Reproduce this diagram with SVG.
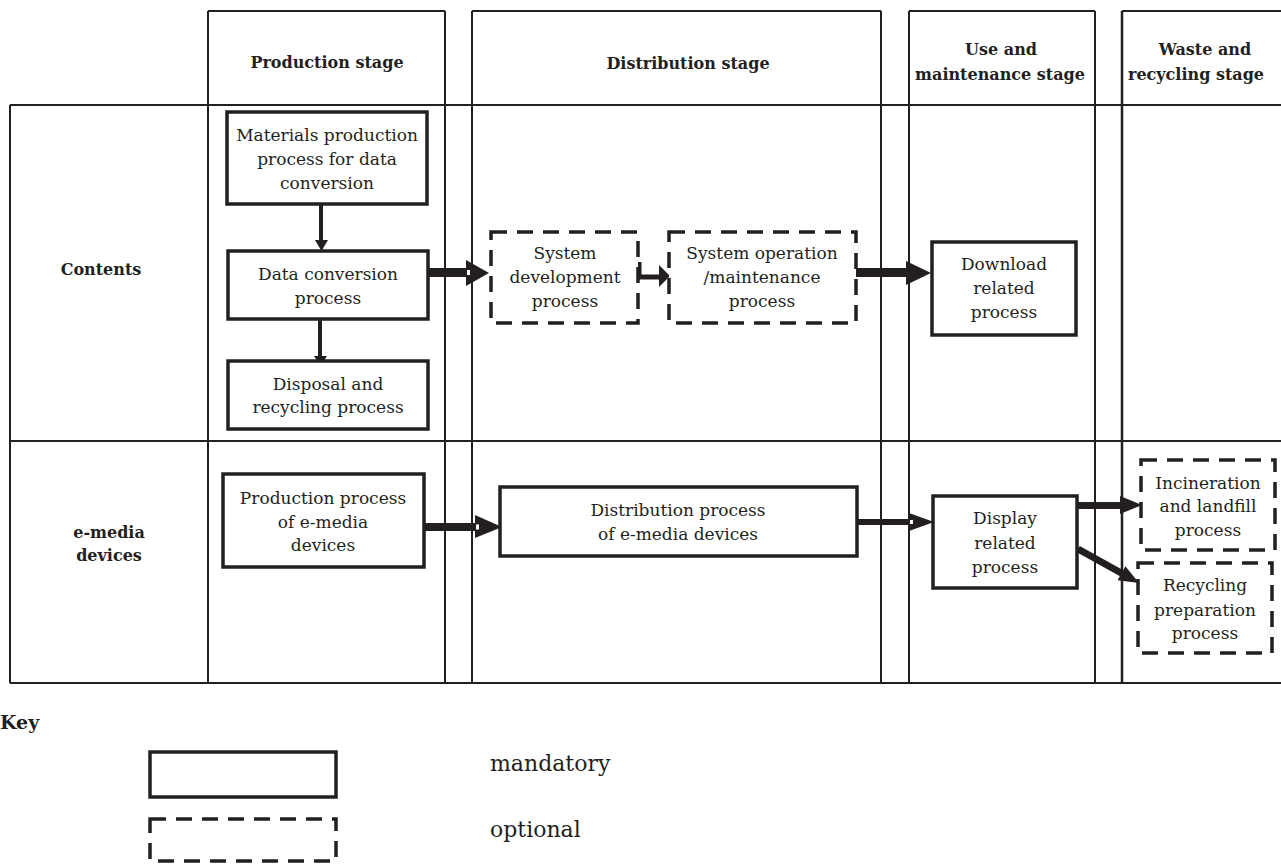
<svg xmlns="http://www.w3.org/2000/svg" width="1281" height="864" viewBox="0 0 1281 864">
<style>
.grid{stroke:#231f20;stroke-width:2;fill:none}
.box{fill:#fff;stroke:#231f20;stroke-width:3.5}
.opt{fill:#fff;stroke:#231f20;stroke-width:3.5;stroke-dasharray:16 10}
.t{font-family:"DejaVu Serif","Liberation Serif",serif;font-size:17px;fill:#231f20;text-anchor:middle}
.h{font-family:"DejaVu Serif","Liberation Serif",serif;font-size:16px;font-weight:bold;fill:#231f20;text-anchor:middle}
.k{font-family:"DejaVu Serif","Liberation Serif",serif;font-size:22px;fill:#231f20}
.head{fill:#231f20}
.sh{fill:#231f20}
.notch{fill:#fff}
</style>
<rect width="1281" height="864" fill="#fff"/>
<g id="grid">
<path class="grid" d="M10 105H1281M10 441H1281M10 683H1281M10 105V683"/>
<path class="grid" d="M208 11H445M472 11H881M909 11H1095M1122 11H1281"/>
<path class="grid" d="M208 11V683M445 11V683M472 11V683M881 11V683M909 11V683M1095 11V683"/>
<path class="grid" d="M1122 11V683" style="stroke-width:2.5"/>
</g>
<g id="headers">
<text class="h" x="327" y="68">Production stage</text>
<text class="h" x="688" y="69">Distribution stage</text>
<text class="h" x="1001" y="55">Use and</text>
<text class="h" x="1000" y="80">maintenance stage</text>
<text class="h" x="1205" y="55">Waste and</text>
<text class="h" x="1196" y="80">recycling stage</text>
<text class="h" x="101" y="275">Contents</text>
<text class="h" x="109" y="538">e-media</text>
<text class="h" x="109" y="561">devices</text>
</g>
<g id="connectors">
<path d="M321 204V242" stroke="#231f20" stroke-width="4"/>
<polygon class="head" points="315,240 328,240 321.5,251"/>
<path d="M320 319V358" stroke="#231f20" stroke-width="4"/>
<polygon class="head" points="314,356 327,356 320.5,366"/>
<rect class="sh" x="428" y="268" width="40" height="9"/>
<polygon class="head" points="466,260 489,273 466,286"/>
<rect class="notch" x="467" y="270" width="3" height="5"/>
<path d="M639 262V277H661" stroke="#231f20" stroke-width="5" fill="none"/>
<polygon class="head" points="659,265 670,276 659,287"/>
<rect class="sh" x="856" y="268" width="52" height="9"/>
<polygon class="head" points="906,261 931,273 906,285"/>
<rect class="sh" x="424" y="523" width="53" height="8"/>
<polygon class="head" points="475,515 502,527 475,538"/>
<rect class="notch" x="476" y="524.5" width="3" height="5"/>
<rect class="sh" x="857" y="519" width="54" height="6"/>
<polygon class="head" points="909,513 934,522 909,531"/>
<rect class="notch" x="910" y="520" width="3" height="4"/>
<rect class="sh" x="1077" y="502" width="45" height="7"/>
<polygon class="head" points="1120,496 1142,505 1120,514"/>
<path d="M1078 549L1123 574" stroke="#231f20" stroke-width="7"/>
<polygon class="head" points="1139,583 1117.6,580.3 1125.4,566.3"/>
</g>
<g id="n1">
<rect class="box" x="227" y="112" width="200" height="92"/>
<text class="t" x="327" y="141">Materials production</text>
<text class="t" x="327" y="165">process for data</text>
<text class="t" x="327" y="189">conversion</text>
</g>
<g id="n2">
<rect class="box" x="228" y="251" width="200" height="68"/>
<text class="t" x="328" y="280">Data conversion</text>
<text class="t" x="328" y="304">process</text>
</g>
<g id="n3">
<rect class="box" x="228" y="361" width="200" height="68"/>
<text class="t" x="328" y="390">Disposal and</text>
<text class="t" x="328" y="413">recycling process</text>
</g>
<g id="n4">
<rect class="opt" x="491" y="232" width="147" height="91"/>
<text class="t" x="565" y="259">System</text>
<text class="t" x="565" y="283">development</text>
<text class="t" x="565" y="307">process</text>
</g>
<g id="n5">
<rect class="opt" x="669" y="232" width="187" height="91"/>
<text class="t" x="762" y="259">System operation</text>
<text class="t" x="762" y="283">/maintenance</text>
<text class="t" x="762" y="307">process</text>
</g>
<g id="n6">
<rect class="box" x="932" y="242" width="144" height="93"/>
<text class="t" x="1004" y="270">Download</text>
<text class="t" x="1004" y="294">related</text>
<text class="t" x="1004" y="318">process</text>
</g>
<g id="n7">
<rect class="box" x="223" y="474" width="201" height="93"/>
<text class="t" x="323" y="504">Production process</text>
<text class="t" x="323" y="528">of e-media</text>
<text class="t" x="323" y="551">devices</text>
</g>
<g id="n8">
<rect class="box" x="500" y="487" width="357" height="69"/>
<text class="t" x="678" y="516">Distribution process</text>
<text class="t" x="678" y="540">of e-media devices</text>
</g>
<g id="n9">
<rect class="box" x="933" y="496" width="144" height="92"/>
<text class="t" x="1005" y="524">Display</text>
<text class="t" x="1005" y="549">related</text>
<text class="t" x="1005" y="573">process</text>
</g>
<g id="n10">
<rect class="opt" x="1141" y="460" width="134" height="90"/>
<text class="t" x="1208" y="489">Incineration</text>
<text class="t" x="1208" y="512">and landfill</text>
<text class="t" x="1208" y="536">process</text>
</g>
<g id="n11">
<rect class="opt" x="1138" y="563" width="134" height="90"/>
<text class="t" x="1205" y="591">Recycling</text>
<text class="t" x="1205" y="616">preparation</text>
<text class="t" x="1205" y="639">process</text>
</g>
<g id="key">
<text class="h" x="0" y="729" style="text-anchor:start;font-size:19px">Key</text>
<rect class="box" x="150" y="752" width="186" height="45"/>
<text class="k" x="490" y="771">mandatory</text>
<rect class="opt" x="150" y="819" width="186" height="42"/>
<text class="k" x="490" y="837">optional</text>
</g>
</svg>
